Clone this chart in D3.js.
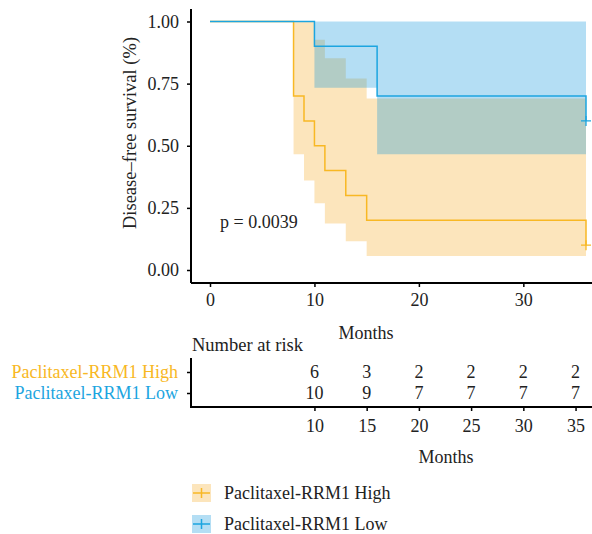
<!DOCTYPE html>
<html><head><meta charset="utf-8">
<script src="https://cdn.jsdelivr.net/npm/d3@7"></script>
<style>
body{margin:0;background:#fff;}
text{font-family:"Liberation Serif","Times New Roman",serif;fill:#222;}
</style></head><body>
<svg id="c" width="592" height="534"></svg>
<script>
// ---- data ----
const groups = ["Paclitaxel-RRM1 High","Paclitaxel-RRM1 Low"];
const highTime  = [0, 8, 9, 10, 11, 13, 15, 36];
const highSurv  = [1, 0.7, 0.6, 0.5, 0.4, 0.3, 0.2, 0.1];
const highUpper = [1, 1, 1, 0.927, 0.852, 0.771, 0.69, 0.69];
const highLower = [1, 0.466, 0.36, 0.269, 0.187, 0.116, 0.056, 0.056];
const lowTime   = [0, 10, 16, 36];
const lowSurv   = [1, 0.9, 0.7, 0.6];
const lowUpper  = [1, 1, 1, 1];
const lowLower  = [1, 0.733, 0.466, 0.466];
const censorTime = [36, 36];
const censorSurv = [0.1, 0.6];
const yTicks = [0, 0.25, 0.5, 0.75, 1.0];
const xTicks = [0, 10, 20, 30];
const riskTimes = [10, 15, 20, 25, 30, 35];
const riskHigh = [6, 3, 2, 2, 2, 2];
const riskLow  = [10, 9, 7, 7, 7, 7];
const pText = "p = 0.0039";

const colHigh = "#F8B824", colLow = "#1CA5E0";
const fillHigh = "#F5A820", fillLow = "#0891DA", fillOp = 0.3;

const svg = d3.select("#c");
const x = d3.scaleLinear().domain([0, 36]).range([210, 586]);
const y = d3.scaleLinear().domain([0, 1]).range([270, 21.5]);

function mk(t, s, u, l){ return t.map((d,i)=>({t:d, s:s[i], u:u[i], l:l[i]})); }
const dHigh = mk(highTime, highSurv, highUpper, highLower);
const dLow  = mk(lowTime, lowSurv, lowUpper, lowLower);

const area = d3.area().curve(d3.curveStepAfter).x(d=>x(d.t)).y0(d=>y(d.l)).y1(d=>y(d.u));
const line = d3.line().curve(d3.curveStepAfter).x(d=>x(d.t)).y(d=>y(d.s));

svg.append("path").datum(dHigh).attr("d", area).attr("fill", fillHigh).attr("fill-opacity", fillOp);
svg.append("path").datum(dLow).attr("d", area).attr("fill", fillLow).attr("fill-opacity", fillOp);
svg.append("path").datum(dHigh).attr("d", line).attr("fill","none").attr("stroke", colHigh).attr("stroke-width", 1.5);
svg.append("path").datum(dLow).attr("d", line).attr("fill","none").attr("stroke", colLow).attr("stroke-width", 1.5);

// censor marks
const cCols = [colHigh, colLow];
censorTime.forEach((t,i)=>{
  const cx = x(t), cy = y(censorSurv[i]);
  svg.append("path").attr("d", `M${cx-5},${cy}H${cx+5}M${cx},${cy-5}V${cy+5}`)
    .attr("stroke", cCols[i]).attr("stroke-width", 1.3);
});

// axes
const yAxis = d3.axisLeft(y).tickValues(yTicks).tickFormat(d3.format(".2f")).tickSize(4).tickPadding(8);
const gy = svg.append("g").attr("transform","translate(191,0)").call(yAxis);
gy.select(".domain").attr("d","M0,9V283").attr("stroke","#000").attr("stroke-width",2);
gy.selectAll(".tick line").attr("stroke","#000").attr("stroke-width",1.5);
gy.selectAll("text").style("font-size","18px").attr("fill","#222").attr("font-family","Liberation Serif");

const xAxis = d3.axisBottom(x).tickValues(xTicks).tickSize(4).tickPadding(6);
const gx = svg.append("g").attr("transform","translate(0,283)").call(xAxis);
gx.select(".domain").attr("d","M191,0H592").attr("stroke","#000").attr("stroke-width",2);
gx.selectAll(".tick line").attr("stroke","#000").attr("stroke-width",1.5);
gx.selectAll("text").style("font-size","18px").attr("fill","#222").attr("font-family","Liberation Serif");

svg.append("text").attr("transform","translate(130,133) rotate(-90)").attr("text-anchor","middle")
  .attr("dominant-baseline","central").style("font-size","18.5px").text("Disease–free survival (%)");
svg.append("text").attr("x",366).attr("y",333).attr("text-anchor","middle").attr("dominant-baseline","central")
  .style("font-size","18px").text("Months");
svg.append("text").attr("x",220).attr("y",222).attr("dominant-baseline","central")
  .style("font-size","18px").text(pText);

// risk table
svg.append("text").attr("x",192).attr("y",345).attr("dominant-baseline","central")
  .style("font-size","18.5px").text("Number at risk");
const rowY = d3.scalePoint().domain(groups).range([372, 393]);
const gRy = svg.append("g").attr("transform","translate(191,0)").call(d3.axisLeft(rowY).tickSize(4).tickFormat(""));
gRy.select(".domain").attr("d","M0,358V408").attr("stroke","#000").attr("stroke-width",2);
gRy.selectAll(".tick line").attr("stroke","#000").attr("stroke-width",1.5);
groups.forEach((g,i)=>{
  svg.append("text").attr("x",178).attr("y",rowY(g)).attr("text-anchor","end").attr("dominant-baseline","central")
    .style("font-size","18px").style("fill", i===0?colHigh:colLow).text(g);
});
const gRx = svg.append("g").attr("transform","translate(0,407)").call(d3.axisBottom(x).tickValues(riskTimes).tickSize(4).tickPadding(8));
gRx.select(".domain").attr("d","M191,0H592").attr("stroke","#000").attr("stroke-width",2);
gRx.selectAll(".tick line").attr("stroke","#000").attr("stroke-width",1.5);
gRx.selectAll("text").style("font-size","18px").attr("fill","#222").attr("font-family","Liberation Serif");
[riskHigh, riskLow].forEach((arr,k)=>{
  arr.forEach((v,i)=>{
    svg.append("text").attr("x",x(riskTimes[i])).attr("y",rowY(groups[k])).attr("text-anchor","middle")
      .attr("dominant-baseline","central").style("font-size","18px").text(v);
  });
});
svg.append("text").attr("x",446).attr("y",457).attr("text-anchor","middle").attr("dominant-baseline","central")
  .style("font-size","18px").text("Months");

// legend
const legY = [493, 524];
groups.forEach((g,i)=>{
  const cy = legY[i];
  svg.append("rect").attr("x",192).attr("y",cy-9).attr("width",19).attr("height",18)
    .attr("fill", i===0?fillHigh:fillLow).attr("fill-opacity", fillOp);
  svg.append("path").attr("d",`M193,${cy}H210M201.5,${cy-5}V${cy+5}`).attr("stroke", i===0?colHigh:colLow).attr("stroke-width",1.5);
  svg.append("text").attr("x",224).attr("y",cy).attr("dominant-baseline","central").style("font-size","18px").text(g);
});
</script></body></html>
